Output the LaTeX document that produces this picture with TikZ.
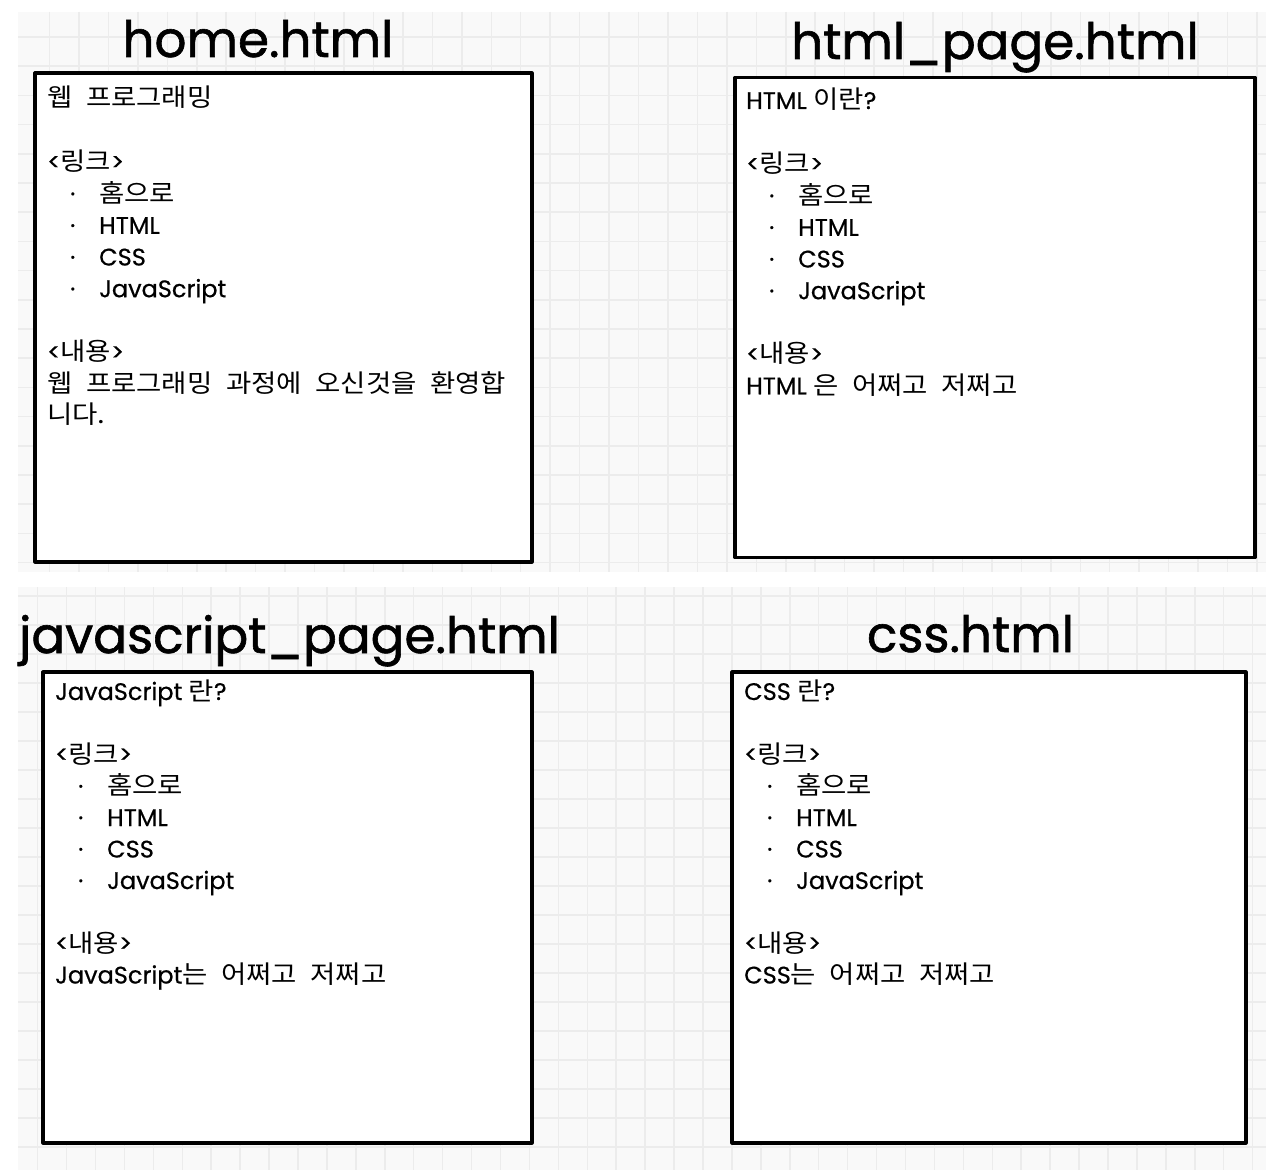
\documentclass[tikz,border=0pt]{standalone}
\usepackage{fontspec}
\setmainfont{Poppins}[FakeBold=0.5]
\newfontfamily\ttlfont[FakeBold=1.2]{Poppins}
\newfontfamily\kr[FakeStretch=1.1, WordSpace=2.2]{Noto Sans CJK KR}
\definecolor{gridbg}{HTML}{F9F9F9}
\definecolor{gridln}{HTML}{ECECEC}
\newcommand\K[1]{{\kr\fontsize{25pt}{31.7pt}\selectfont #1}}
\newcommand\rowtxt[1]{\hbox{#1}}
\newcommand\emptyrow{\hbox{}}
\newcommand\bl[1]{\hbox{\hskip23pt\makebox[29pt][l]{·}#1}}
\newcommand\pagetext[2]{\vtop{\baselineskip=#1pt\lineskiplimit=-100pt\lineskip=0pt #2}}
\tikzset{
  pagebox/.style={draw=black, fill=white, line width=3.2pt, line join=round, inner sep=0pt},
  pagetitle/.style={anchor=base, inner sep=0pt, font=\ttlfont\fontsize{50pt}{60pt}\selectfont},
  bodytxt/.style={anchor=base west, inner sep=0pt, font=\fontsize{24pt}{31.7pt}\selectfont}
}
\begin{document}
\begin{tikzpicture}[x=1pt,y=-1pt]
\useasboundingbox (0,0) rectangle (1284,1174);
\fill[white] (0,0) rectangle (1284,1174);
% grid regions
\begin{scope}
  \fill[gridbg] (18,12) rectangle (1266,572);
  \clip (18,12) rectangle (1266,572);
  \foreach \i in {0,...,42} \draw[gridln, line width=1.5pt] ({49.5+\i*29.45},12) -- ++(0,560);
  \foreach \j in {0,...,18} \draw[gridln, line width=1.5pt] (18,{37+\j*29.2}) -- ++(1248,0);
\end{scope}
\begin{scope}
  \fill[gridbg] (18,587) rectangle (1266,1170);
  \clip (18,587) rectangle (1266,1170);
  \foreach \i in {0,...,43} \draw[gridln, line width=1.5pt] ({37.6+\i*28.93},587) -- ++(0,583);
  \foreach \j in {0,...,20} \draw[gridln, line width=1.5pt] (18,{596+\j*29}) -- ++(1248,0);
\end{scope}
% titles
\node[pagetitle] (t1) at (258,57) {home.html};
\node[pagetitle] (t2) at (995,59) {html\_page.html};
\node[pagetitle] (t3) at (289.5,653) {javascript\_page.html};
\node[pagetitle] (t4) at (970.5,652) {css.html};
% page boxes
\node[pagebox, minimum width=497pt, minimum height=489pt] (p1) at (283.5,317.5) {};
\node[pagebox, minimum width=520pt, minimum height=480pt] (p2) at (995,317.5) {};
\node[pagebox, minimum width=489pt, minimum height=471pt] (p3) at (287.5,907.5) {};
\node[pagebox, minimum width=514pt, minimum height=471pt] (p4) at (989,907.5) {};
% texts
\node[bodytxt] (x1) at (47,107) {\pagetext{31.7}{%
  \rowtxt{\K{웹 프로그래밍}}
  \emptyrow
  \rowtxt{<\K{링크}>}
  \bl{\K{홈으로}}
  \bl{HTML}
  \bl{CSS}
  \bl{JavaScript}
  \emptyrow
  \rowtxt{<\K{내용}>}
  \rowtxt{\K{웹 프로그래밍 과정에 오신것을 환영합}}
  \rowtxt{\K{니다.}}}};
\node[bodytxt] (x2) at (746,109) {\pagetext{31.7}{%
  \rowtxt{HTML \K{이란}?}
  \emptyrow
  \rowtxt{<\K{링크}>}
  \bl{\K{홈으로}}
  \bl{HTML}
  \bl{CSS}
  \bl{JavaScript}
  \emptyrow
  \rowtxt{<\K{내용}>}
  \rowtxt{HTML \K{은 어쩌고 저쩌고}}}};
\node[bodytxt] (x3) at (55,700) {\pagetext{31.5}{%
  \rowtxt{JavaScript \K{란}?}
  \emptyrow
  \rowtxt{<\K{링크}>}
  \bl{\K{홈으로}}
  \bl{HTML}
  \bl{CSS}
  \bl{JavaScript}
  \emptyrow
  \rowtxt{<\K{내용}>}
  \rowtxt{JavaScript\K{는 어쩌고 저쩌고}}}};
\node[bodytxt] (x4) at (744,700) {\pagetext{31.5}{%
  \rowtxt{CSS \K{란}?}
  \emptyrow
  \rowtxt{<\K{링크}>}
  \bl{\K{홈으로}}
  \bl{HTML}
  \bl{CSS}
  \bl{JavaScript}
  \emptyrow
  \rowtxt{<\K{내용}>}
  \rowtxt{CSS\K{는 어쩌고 저쩌고}}}};
\end{tikzpicture}
\end{document}
